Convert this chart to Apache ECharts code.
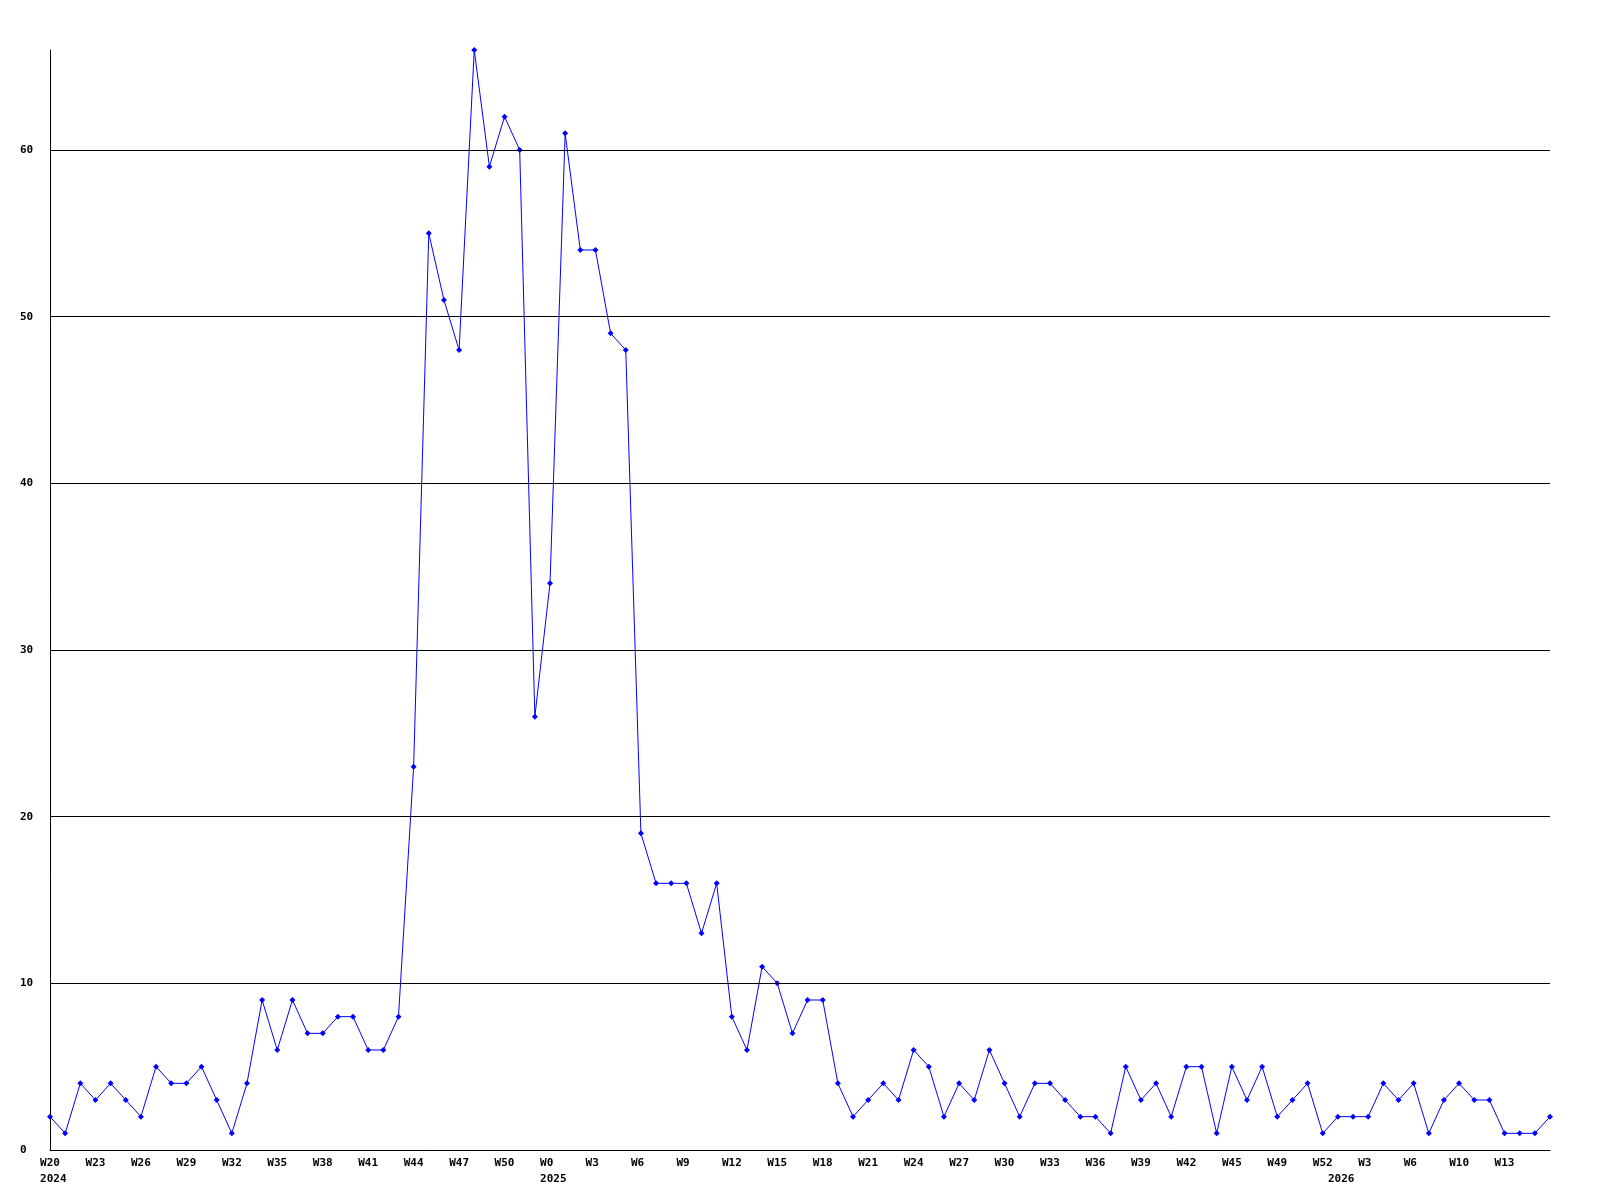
<!DOCTYPE html>
<html>
<head>
<meta charset="utf-8">
<script src="https://cdn.jsdelivr.net/npm/echarts@6/dist/echarts.min.js"></script>
<style>html,body{margin:0;padding:0;background:#fff}#c{width:1600px;height:1200px}</style>
</head>
<body>
<div id="c"></div>
<script>
const weeks2024 = ['W20','W21','W22','W23','W24','W25','W26','W27','W28','W29','W30','W31','W32','W33','W34','W35','W36','W37','W38','W39','W40','W41','W42','W43','W44','W45','W46','W47','W48','W49','W50','W51','W52'];
const weeks2025 = ['W0','W1','W2','W3','W4','W5','W6','W7','W8','W9','W10','W11','W12','W13','W14','W15','W16','W17','W18','W19','W20','W21','W22','W23','W24','W25','W26','W27','W28','W29','W30','W31','W32','W33','W34','W35','W36','W37','W38','W39','W40','W41','W42','W43','W44','W45','W46','W48','W49','W50','W51','W52'];
const weeks2026 = ['W1','W2','W3','W4','W5','W6','W8','W9','W10','W11','W12','W13','W14','W15','W16'];
const yearStarts = { 0: '2024', 33: '2025', 85: '2026' };
const values = [2,1,4,3,4,3,2,5,4,4,5,3,1,4,9,6,9,7,7,8,8,6,6,8,23,55,51,48,66,59,62,60,26,34,61,54,54,49,48,19,16,16,16,13,16,8,6,11,10,7,9,9,4,2,3,4,3,6,5,2,4,3,6,4,2,4,4,3,2,2,1,5,3,4,2,5,5,1,5,3,5,2,3,4,1,2,2,2,4,3,4,1,3,4,3,3,1,1,1,2];
const yGridValues = [10,20,30,40,50,60];
const yMax = 66;

const categories = weeks2024.concat(weeks2025, weeks2026);
const font = { fontFamily: 'DejaVu Sans Mono', fontWeight: 'bold', fontSize: 11, color: '#000' };

const chart = echarts.init(document.getElementById('c'), null, { renderer: 'canvas' });
chart.setOption({
  animation: false,
  backgroundColor: '#fff',
  grid: { left: 50, right: 50, top: 50, bottom: 50, containLabel: false },
  xAxis: [
    {
      type: 'category', data: categories, boundaryGap: false,
      axisLine: { show: true, lineStyle: { color: '#000', width: 1 } },
      axisTick: { show: false },
      splitLine: { show: false },
      axisLabel: Object.assign({
        interval: (i) => i % 3 === 0 && i < categories.length - 1,
        margin: 8, align: 'center',
        formatter: v => (v + '   ').slice(0, 3)
      }, font)
    },
    {
      type: 'category', data: categories, boundaryGap: false, position: 'bottom',
      axisLine: { show: false }, axisTick: { show: false }, splitLine: { show: false },
      axisLabel: Object.assign({
        interval: (i) => yearStarts[i] !== undefined, margin: 24, align: 'center',
        formatter: (v, i) => ' ' + (yearStarts[i] || '')
      }, font)
    }
  ],
  yAxis: {
    type: 'value', min: 0, max: yMax, interval: 10,
    axisLine: { show: true, lineStyle: { color: '#000', width: 1 } },
    axisTick: { show: false },
    splitLine: { show: false },
    axisLabel: Object.assign({ align: 'left', margin: 30, showMaxLabel: false }, font)
  },
  series: [{
    type: 'line', data: values, xAxisIndex: 0,
    showAllSymbol: true, symbol: 'diamond', symbolSize: 6,
    lineStyle: { color: '#0000ff', width: 1 },
    itemStyle: { color: '#0000ff' },
    markLine: {
      silent: true, symbol: 'none', label: { show: false },
      lineStyle: { color: '#000', type: 'solid', width: 1 },
      data: yGridValues.map(v => ({ yAxis: v }))
    },
    z: 3
  }]
});
</script>
</body>
</html>
